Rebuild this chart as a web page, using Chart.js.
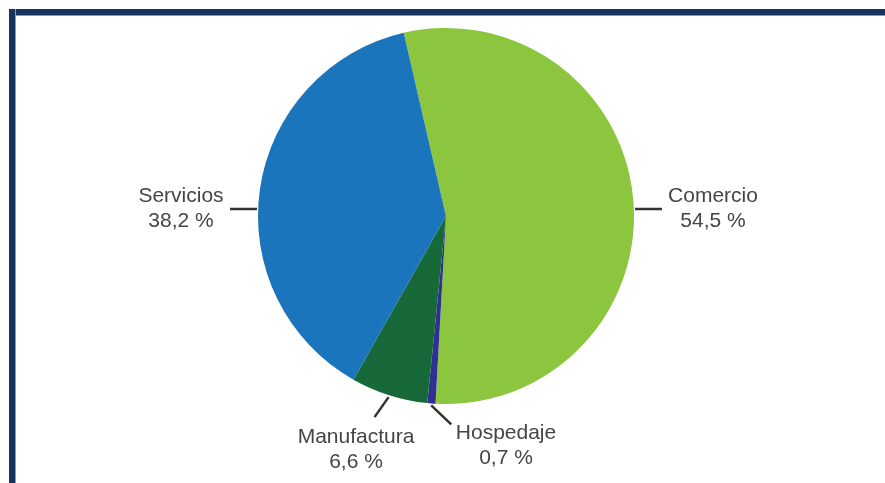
<!DOCTYPE html>
<html lang="es">
<head>
<meta charset="utf-8">
<title>Distribución por sector</title>
<script src="https://cdn.jsdelivr.net/npm/chart.js@4"></script>
<style>
  html, body { margin: 0; padding: 0; background: #fff; }
  body { width: 885px; height: 483px; position: relative; overflow: hidden; }
  .marco-sup { position: absolute; left: 9px; top: 9px; width: 876px; height: 6px; background: #17335e; border-bottom: 1px solid #8a9ab5; }
  .marco-izq { position: absolute; left: 9px; top: 9px; width: 6px; height: 474px; background: #17335e; border-right: 1px solid #8a9ab5; }
  #grafica { position: absolute; left: 0; top: 0; }
</style>
</head>
<body>
<div class="marco-sup"></div>
<div class="marco-izq"></div>
<canvas id="grafica" width="885" height="483"></canvas>
<script>
const categorias = ["Comercio", "Hospedaje", "Manufactura", "Servicios"];
const porcentajes = [54.5, 0.7, 6.6, 38.2];
const colores = ["#8cc63f", "#2e3192", "#17693a", "#1b75bc"];

// ubicación de cada etiqueta respecto al centro (cx, cy) y radio r del pastel
const posEtiquetas = {
  Comercio:    { tipo: "lado", dir: 1 },
  Servicios:   { tipo: "lado", dir: -1 },
  Manufactura: { tipo: "abajo", linea: [-14, 20], tx: -90, ty: 221 },
  Hospedaje:   { tipo: "abajo", linea: [20, 19], tx: 60, ty: 217 }
};

const formato = v => v.toFixed(1).replace(".", ",") + " %";

const etiquetasPlugin = {
  id: "etiquetas",
  afterDatasetsDraw(chart) {
    const ctx = chart.ctx;
    const meta = chart.getDatasetMeta(0);
    ctx.save();
    ctx.strokeStyle = "#333";
    ctx.lineWidth = 2.5;
    ctx.fillStyle = "#454545";
    ctx.font = "21px 'Liberation Sans', Arial, sans-serif";
    ctx.textAlign = "center";
    ctx.textBaseline = "middle";

    meta.data.forEach((arc, i) => {
      const nombre = categorias[i];
      const conf = posEtiquetas[nombre];
      const cx = arc.x, cy = arc.y, r = arc.outerRadius;
      let tx, ty;

      if (conf.tipo === "lado") {
        const y = cy - 7;
        const x0 = cx + conf.dir * (r + 1);
        const x1 = cx + conf.dir * (r + 28);
        ctx.beginPath();
        ctx.moveTo(x0, y);
        ctx.lineTo(x1, y);
        ctx.stroke();
        tx = cx + conf.dir * (r + (conf.dir > 0 ? 79 : 77));
        ty = cy - 20;
      } else {
        const medio = (arc.startAngle + arc.endAngle) / 2;
        const x0 = cx + Math.cos(medio) * (r + 2);
        const y0 = cy + Math.sin(medio) * (r + 2);
        ctx.beginPath();
        ctx.moveTo(x0, y0);
        ctx.lineTo(x0 + conf.linea[0], y0 + conf.linea[1]);
        ctx.stroke();
        tx = cx + conf.tx;
        ty = cy + conf.ty;
      }

      ctx.fillText(nombre, tx, ty);
      ctx.fillText(formato(porcentajes[i]), tx, ty + 25);
    });
    ctx.restore();
  }
};

new Chart(document.getElementById("grafica"), {
  type: "pie",
  data: {
    labels: categorias,
    datasets: [{
      data: porcentajes,
      backgroundColor: colores,
      borderWidth: 0
    }]
  },
  options: {
    responsive: false,
    animation: false,
    rotation: -13,
    layout: { padding: { left: 258, right: 251, top: 28, bottom: 79 } },
    plugins: {
      legend: { display: false },
      tooltip: { enabled: false }
    }
  },
  plugins: [etiquetasPlugin]
});
</script>
</body>
</html>
